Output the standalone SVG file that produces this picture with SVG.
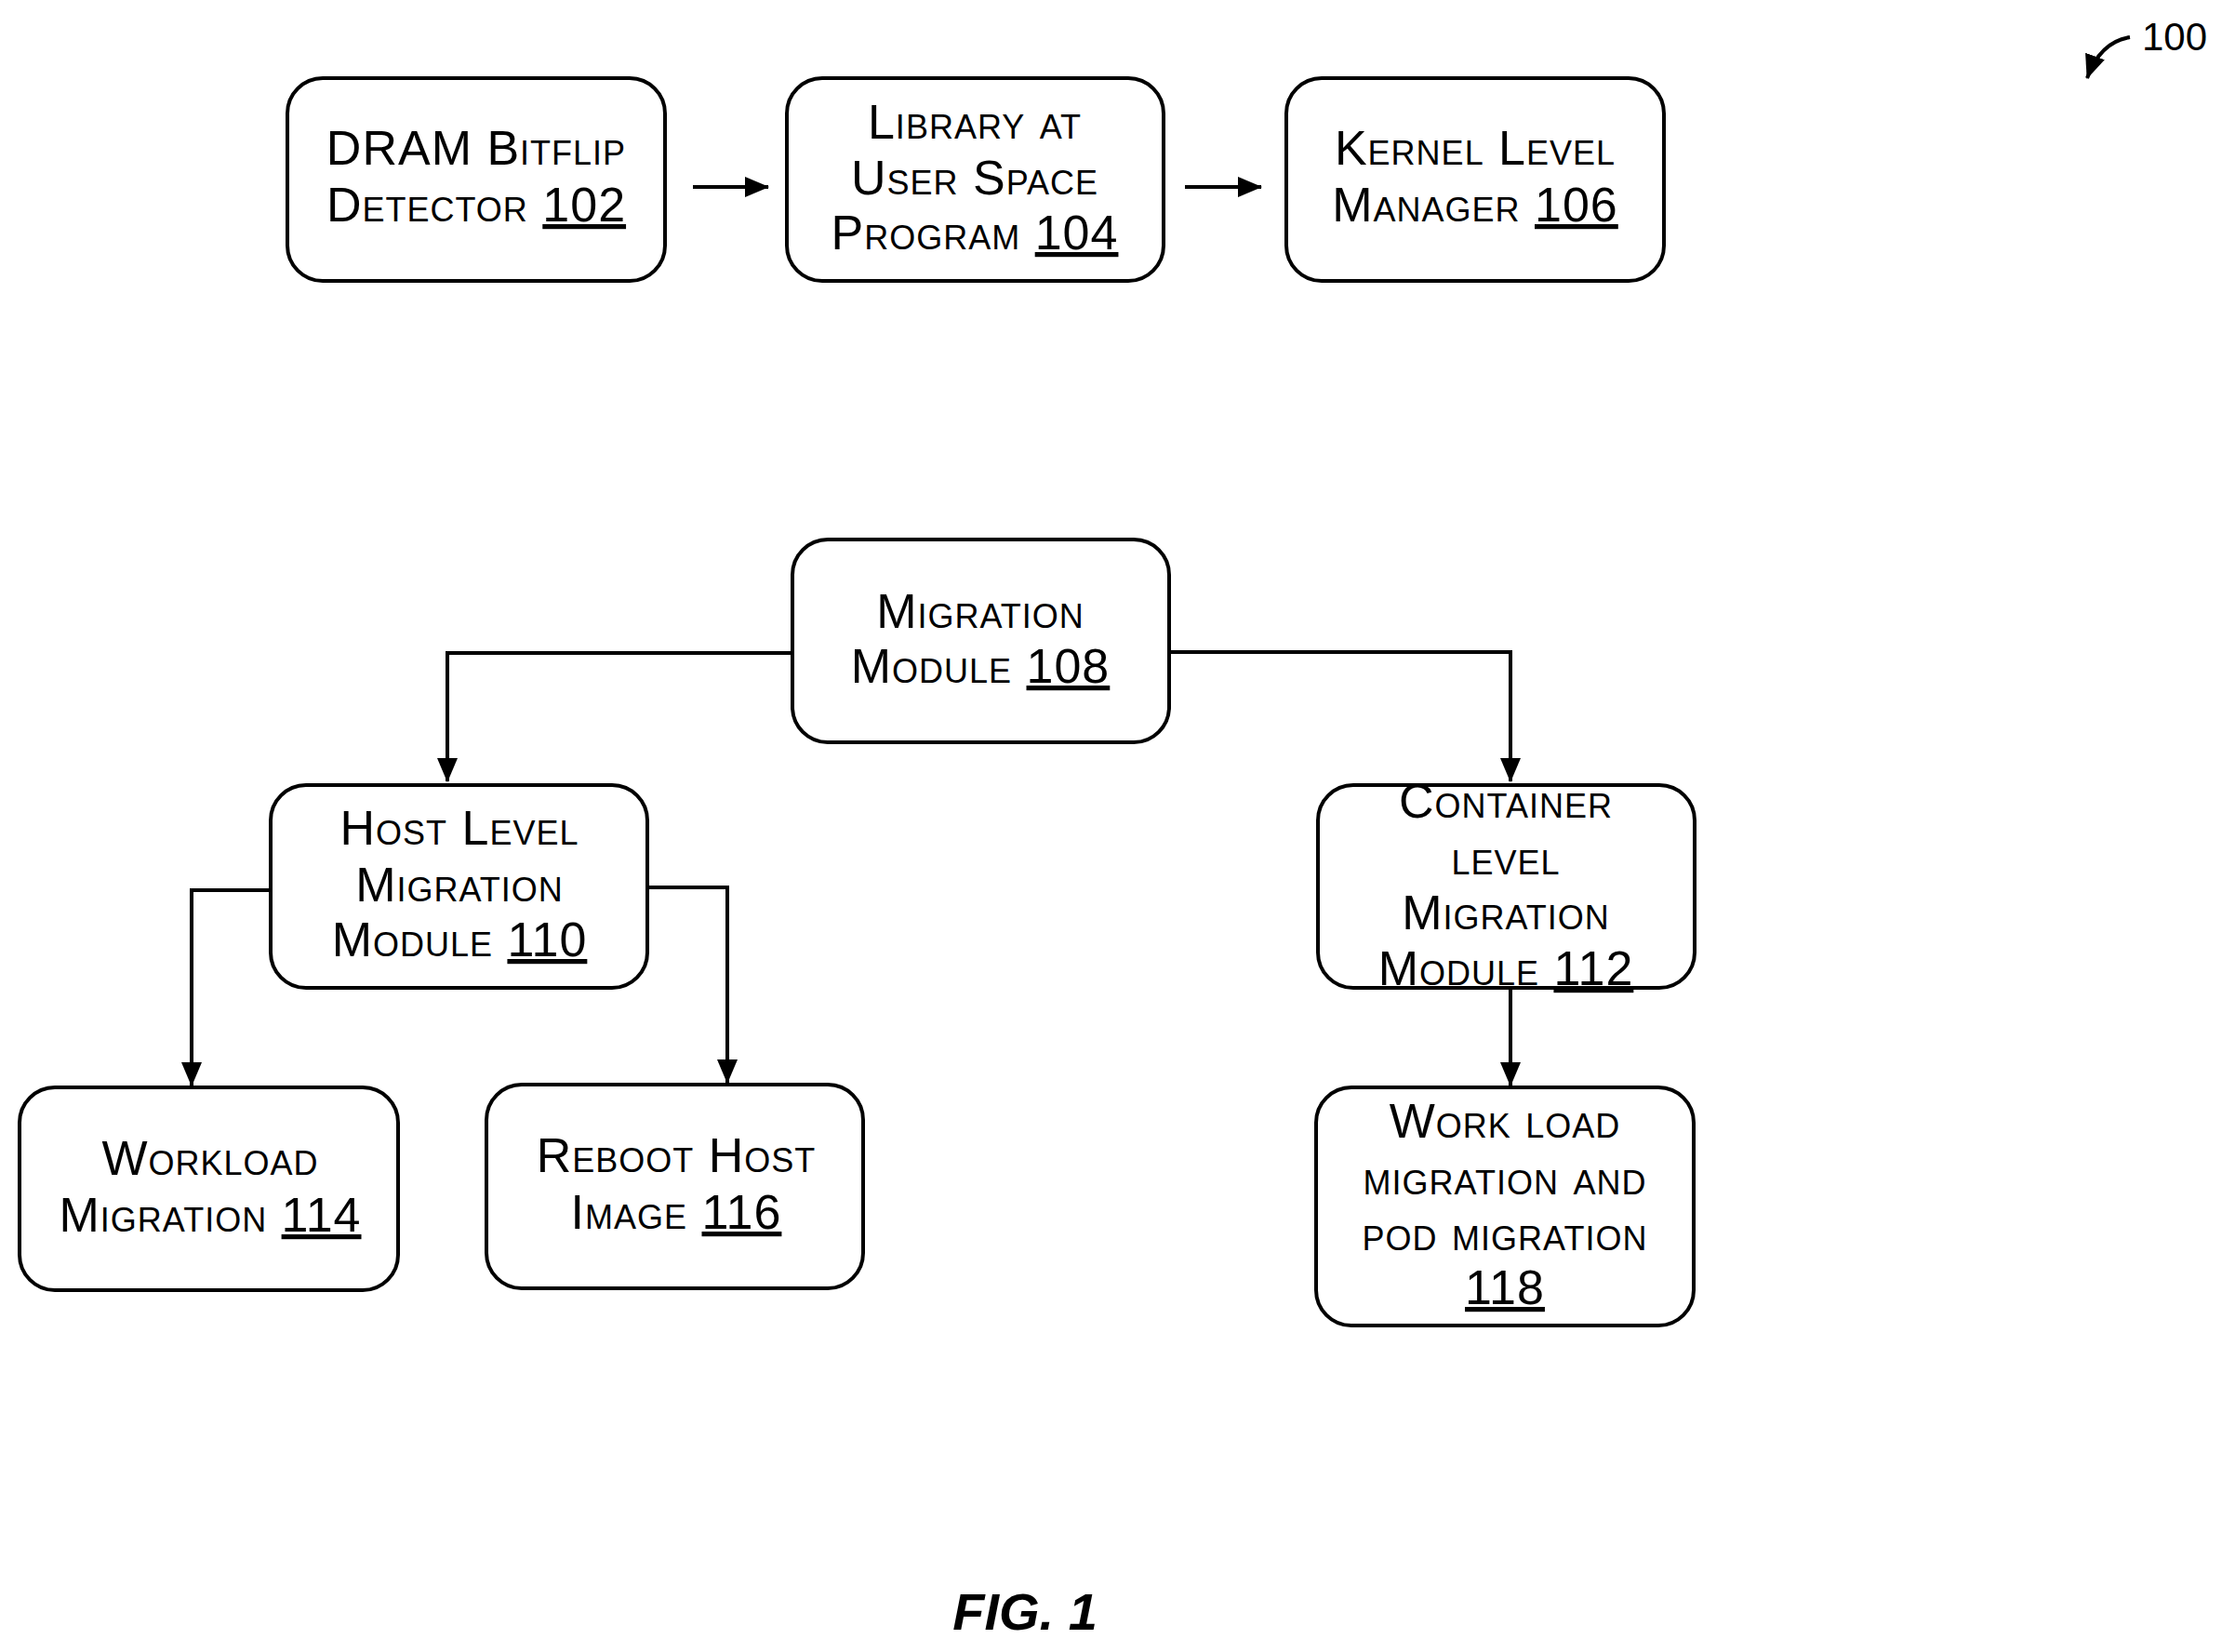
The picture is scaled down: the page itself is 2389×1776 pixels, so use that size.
<svg xmlns="http://www.w3.org/2000/svg" width="2389" height="1776" viewBox="0 0 2389 1776">
<defs>
<style>
.b{fill:#fff;stroke:#000;stroke-width:4}
.t{font-family:"Liberation Sans",Arial,sans-serif;font-size:52px;letter-spacing:1px;font-variant:small-caps;text-anchor:middle;fill:#000}
.u{text-decoration:underline}
.c{fill:none;stroke:#000;stroke-width:4}
</style>
<marker id="m" markerWidth="26" markerHeight="26" refX="25" refY="13" orient="auto" markerUnits="userSpaceOnUse" viewBox="0 0 26 26"><path d="M0,2 L26,13 L0,24z"/></marker>
</defs>
<rect width="2389" height="1776" fill="#fff"/>
<g id="n102"><rect class="b" x="309" y="84" width="406" height="218" rx="38"/><text class="t" x="512" y="177">DRAM Bitflip</text><text class="t" x="512" y="238">Detector <tspan class="u">102</tspan></text></g>
<g id="n104"><rect class="b" x="846" y="84" width="405" height="218" rx="38"/><text class="t" x="1048" y="149">Library at</text><text class="t" x="1048" y="209">User Space</text><text class="t" x="1048" y="268">Program <tspan class="u">104</tspan></text></g>
<g id="n106"><rect class="b" x="1383" y="84" width="406" height="218" rx="38"/><text class="t" x="1586" y="177">Kernel Level</text><text class="t" x="1586" y="238">Manager <tspan class="u">106</tspan></text></g>
<g id="n108"><rect class="b" x="852" y="580" width="405" height="218" rx="38"/><text class="t" x="1054" y="675">Migration</text><text class="t" x="1054" y="734">Module <tspan class="u">108</tspan></text></g>
<g id="n110"><rect class="b" x="291" y="844" width="405" height="218" rx="38"/><text class="t" x="494" y="908">Host Level</text><text class="t" x="494" y="969">Migration</text><text class="t" x="494" y="1028">Module <tspan class="u">110</tspan></text></g>
<g id="n112"><rect class="b" x="1417" y="844" width="405" height="218" rx="38"/><text class="t" x="1619" y="879">Container</text><text class="t" x="1619" y="940">level</text><text class="t" x="1619" y="999">Migration</text><text class="t" x="1619" y="1059">Module <tspan class="u">112</tspan></text></g>
<g id="n114"><rect class="b" x="21" y="1169" width="407" height="218" rx="38"/><text class="t" x="226" y="1263">Workload</text><text class="t" x="226" y="1324">Migration <tspan class="u">114</tspan></text></g>
<g id="n116"><rect class="b" x="523" y="1166" width="405" height="219" rx="38"/><text class="t" x="727" y="1260">Reboot Host</text><text class="t" x="727" y="1321">Image <tspan class="u">116</tspan></text></g>
<g id="n118"><rect class="b" x="1415" y="1169" width="406" height="256" rx="38"/><text class="t" x="1618" y="1223">Work load</text><text class="t" x="1618" y="1284">migration and</text><text class="t" x="1618" y="1344">pod migration</text><text class="t" x="1618" y="1402"><tspan class="u">118</tspan></text></g>
<g id="connectors">
<path class="c" d="M745,201 H826" marker-end="url(#m)"/>
<path class="c" d="M1274,201 H1356" marker-end="url(#m)"/>
<path class="c" d="M852,702 H481 V840" marker-end="url(#m)"/>
<path class="c" d="M1257,701 H1624 V840" marker-end="url(#m)"/>
<path class="c" d="M291,957 H206 V1167" marker-end="url(#m)"/>
<path class="c" d="M696,954 H782 V1164" marker-end="url(#m)"/>
<path class="c" d="M1624,1062 V1167" marker-end="url(#m)"/>
</g>
<g id="ref100"><text x="2303" y="54" font-family="Liberation Sans,Arial,sans-serif" font-size="42">100</text><path class="c" d="M2290,40 Q2258,45 2244,84" marker-end="url(#m)"/></g>
<text x="1102" y="1752" font-family="Liberation Sans,Arial,sans-serif" font-size="56" font-weight="bold" font-style="italic" text-anchor="middle">FIG. 1</text>
</svg>
